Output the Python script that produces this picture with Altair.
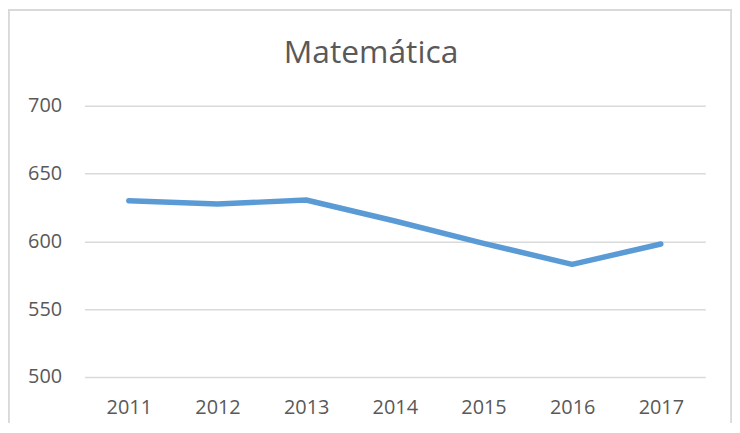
import altair as alt
import pandas as pd

years = ["2011", "2012", "2013", "2014", "2015", "2016", "2017"]
scores = [630, 627.5, 630.5, 615, 598.5, 583, 598]

df = pd.DataFrame({"year": years, "score": scores})

W, H = 625, 273

line = alt.Chart(df).mark_line(
    color="#5b9bd5", strokeWidth=5.5, strokeCap="round", strokeJoin="round"
).encode(
    x=alt.X("year:N", sort=years, title=None,
            scale=alt.Scale(paddingInner=0, paddingOuter=0),
            axis=alt.Axis(labelAngle=0, ticks=False, domain=False, grid=False,
                          labelPadding=21, labelFontSize=20, labelColor="#595959",
                          labelFont="Open Sans")),
    y=alt.Y("score:Q", title=None,
            scale=alt.Scale(domain=[500, 700], nice=False, zero=False),
            axis=alt.Axis(values=[500, 550, 600, 650, 700], ticks=False, domain=False,
                          gridColor="#d9d9d9", gridWidth=1.5, labelPadding=23,
                          labelFontSize=20, labelColor="#595959", labelFont="Open Sans")),
)

border = alt.Chart(df).mark_rect(
    fill=None, stroke="#d9d9d9", strokeWidth=1.5, clip=False
).encode(
    x=alt.value(-76.5), x2=alt.value(W + 26.5),
    y=alt.value(-96.5), y2=alt.value(H + 120),
)

chart = alt.layer(border, line).properties(
    width=W, height=H,
    title=alt.TitleParams("Matemática", fontSize=32, font="Open Sans", fontWeight="normal",
                          color="#595959", anchor="middle", frame="group", dx=-24,
                          baseline="alphabetic", offset=-86),
    autosize=alt.AutoSizeParams(type="none"),
    padding={"left": 77, "top": 97, "right": 27, "bottom": 45},
    background="white",
).configure_view(stroke=None)

chart.save("out.html", embed_options={"renderer": "svg", "actions": False})
